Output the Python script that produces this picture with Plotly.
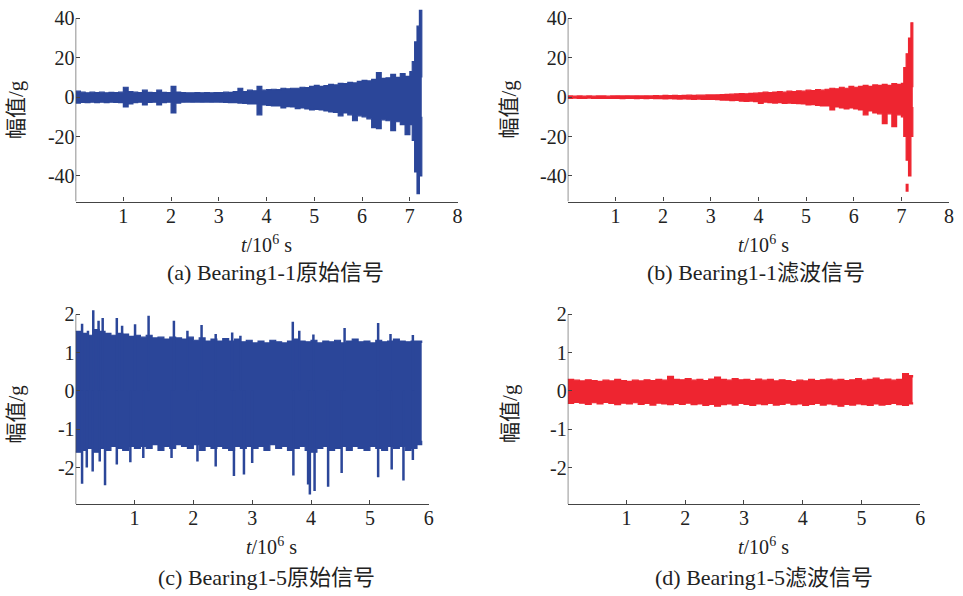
import plotly.graph_objects as go

W, H = 963, 596
BLUE = "#2B4699"
RED = "#EE2530"
AX = "#444444"
FONT = "'Liberation Serif', 'Noto Sans CJK SC', serif"

# ---------------- data ----------------
# sample times (10^6 s) of the envelope readings, one every 0.1
grid_a = sorted(set([round(i * 0.1, 2) for i in range(70)] + [7.0, 7.05, 7.1, 7.15, 7.2, 7.25]))
# (a) Bearing1-1 raw signal: upper / lower envelope
a_up = [3.0, 2.5, 2.2, 2.5, 2.3, 2.5, 2.2, 2.4, 2.3, 2.5,
        5.0, 2.8, 2.5, 2.3, 3.5, 2.4, 2.3, 3.5, 2.4, 2.3,
        5.5, 2.6, 2.3, 2.2, 2.2, 2.3, 2.2, 2.3, 2.2, 2.3,
        2.3, 2.5, 2.4, 2.8, 4.5, 2.8, 3.5, 3.2, 5.5, 3.5,
        3.8, 4.0, 3.8, 4.5, 4.2, 4.5, 4.5, 5.0, 4.8, 5.5,
        6.0, 5.5, 5.8, 6.5, 6.2, 7.0, 6.8, 7.5, 7.2, 8.0,
        8.5, 8.2, 9.0, 12.5, 9.5, 9.8, 11.5, 10.0, 12.0, 10.5,
        13.0, 18.0, 28.0, 36.0, 44.0, 10.0]
a_lo = [-3.0, -2.7, -2.8, -2.6, -2.8, -2.6, -2.8, -2.6, -2.7, -2.8,
        -5.0, -3.5, -2.8, -2.6, -4.0, -2.7, -2.6, -4.0, -2.8, -2.6,
        -8.0, -3.0, -2.6, -2.5, -2.6, -2.5, -2.6, -2.5, -2.6, -2.5,
        -2.6, -2.7, -2.8, -2.8, -3.0, -3.2, -3.5, -3.5, -9.0, -4.0,
        -4.2, -4.5, -4.5, -5.5, -4.8, -5.0, -5.8, -5.5, -6.0, -6.5,
        -6.2, -6.5, -7.0, -7.5, -7.8, -9.5, -8.0, -9.0, -12.0, -9.5,
        -10.0, -11.0, -15.5, -16.0, -11.5, -12.0, -17.0, -12.5, -14.0, -19.0,
        -14.0, -22.0, -38.0, -49.0, -40.0, -10.0]

grid_b = sorted(set([round(i * 0.1, 2) for i in range(70)] + [7.0, 7.05, 7.1, 7.15, 7.2, 7.24]))
# (b) Bearing1-1 filtered signal: upper / lower envelope
b_up = [0.6, 0.5, 0.6, 0.5, 0.6, 0.5, 0.6, 0.6, 0.5, 0.6,
        0.7, 0.6, 0.7, 0.6, 0.7, 0.6, 0.7, 0.6, 0.8, 0.7,
        0.9, 0.8, 0.9, 0.8, 0.9, 1.0, 0.9, 1.0, 1.0, 1.1,
        1.1, 1.2, 1.3, 1.4, 1.5, 1.6, 1.8, 1.7, 1.9, 2.0,
        2.2, 2.5, 2.3, 2.6, 2.8, 2.5, 3.0, 2.8, 3.2, 3.0,
        3.5, 3.3, 3.8, 3.5, 4.0, 4.5, 4.2, 5.0, 4.5, 5.5,
        5.0, 5.5, 6.0, 5.5, 6.2, 6.0, 6.5, 6.0, 6.8, 6.5,
        7.0, 15.0, 22.0, 30.0, 37.7, 5.0]
b_lo = [-0.6, -0.5, -0.6, -0.6, -0.5, -0.6, -0.6, -0.7, -0.6, -0.6,
        -0.7, -0.8, -0.7, -0.7, -0.8, -0.7, -0.8, -0.7, -0.8, -0.8,
        -0.9, -0.8, -0.9, -1.0, -0.9, -1.0, -1.1, -1.0, -1.1, -1.2,
        -1.2, -1.3, -1.5, -1.6, -1.8, -1.7, -2.0, -2.2, -2.0, -2.3,
        -3.2, -2.5, -2.8, -3.0, -2.8, -3.2, -3.0, -3.2, -3.3, -3.5,
        -4.0, -3.8, -4.2, -4.5, -4.5, -6.5, -5.0, -5.5, -6.0, -5.5,
        -6.0, -6.5, -9.0, -7.0, -8.0, -8.5, -13.5, -8.5, -15.0, -9.0,
        -10.0, -20.0, -32.0, -40.0, -20.0, -5.0]
b_blob_t = [7.12]          # detached burst below the band
b_blob_lo = [-48.0]
b_blob_hi = [-44.0]

grid_c = [round(i * 0.1, 2) for i in range(59)] + [5.88]
# (c) Bearing1-5 raw signal: upper / lower envelope
c_up = [1.55, 1.50, 1.45, 1.60, 1.55, 1.50, 1.45, 1.50, 1.48, 1.42,
        1.45, 1.40, 1.45, 1.38, 1.40, 1.35, 1.40, 1.38, 1.35, 1.40,
        1.32, 1.38, 1.30, 1.35, 1.30, 1.36, 1.30, 1.35, 1.28, 1.32,
        1.25, 1.30, 1.25, 1.32, 1.28, 1.25, 1.30, 1.35, 1.30, 1.28,
        1.32, 1.25, 1.30, 1.28, 1.32, 1.25, 1.30, 1.35, 1.28, 1.30,
        1.25, 1.32, 1.28, 1.30, 1.35, 1.30, 1.28, 1.30, 1.30, 1.25]
c_lo = [-1.60, -1.55, -1.50, -1.60, -1.50, -1.55, -1.45, -1.50, -1.55, -1.45,
        -1.50, -1.45, -1.50, -1.40, -1.55, -1.45, -1.50, -1.40, -1.45, -1.50,
        -1.40, -1.55, -1.45, -1.50, -1.45, -1.50, -1.55, -1.45, -1.50, -1.45,
        -1.50, -1.45, -1.55, -1.40, -1.50, -1.45, -1.55, -1.50, -1.45, -1.55,
        -1.60, -1.50, -1.45, -1.55, -1.50, -1.45, -1.55, -1.45, -1.50, -1.55,
        -1.45, -1.50, -1.55, -1.45, -1.50, -1.45, -1.55, -1.50, -1.40, -1.30]
c_spu_t = [0.11, 0.21, 0.30, 0.39, 0.46, 0.70, 0.79, 1.01, 1.24, 1.67, 1.90, 2.14, 2.38, 2.66,
           2.80, 3.69, 3.80, 4.04, 4.57, 5.14, 5.35, 5.73]
c_spu_v = [1.75, 1.57, 2.1, 1.83, 1.9, 1.9, 1.7, 1.74, 1.96, 1.83, 1.57, 1.72, 1.48, 1.52, 1.44,
           1.8, 1.57, 1.47, 1.64, 1.77, 1.48, 1.46]
c_spd_t = [0.11, 0.19, 0.29, 0.41, 0.50, 0.70, 0.93, 1.15, 1.63, 2.07, 2.38, 2.69, 2.86, 3.0,
           3.70, 3.95, 3.98, 4.06, 4.29, 4.52, 5.14, 5.37, 5.57, 5.73]
c_spd_v = [-2.42, -2.0, -2.1, -1.84, -2.46, -1.92, -1.86, -1.75, -1.75, -1.84, -1.97, -2.22,
           -2.18, -1.88, -2.21, -2.44, -2.7, -2.61, -2.5, -2.14, -2.25, -2.05, -2.34, -1.8]

grid_d = [round(i * 0.1, 2) for i in range(59)] + [5.87]
# (d) Bearing1-5 filtered signal: upper / lower envelope
d_up = [0.30, 0.28, 0.26, 0.29, 0.27, 0.25, 0.28, 0.26, 0.30, 0.27,
        0.25, 0.28, 0.26, 0.29, 0.27, 0.30, 0.28, 0.38, 0.30, 0.29,
        0.32, 0.28, 0.30, 0.27, 0.31, 0.36, 0.30, 0.28, 0.32, 0.29,
        0.30, 0.27, 0.31, 0.28, 0.30, 0.26, 0.29, 0.27, 0.24, 0.28,
        0.26, 0.30, 0.27, 0.29, 0.31, 0.28, 0.30, 0.27, 0.29, 0.32,
        0.28, 0.30, 0.33, 0.29, 0.31, 0.28, 0.30, 0.45, 0.40, 0.35]
d_lo = [-0.33, -0.30, -0.32, -0.35, -0.31, -0.34, -0.30, -0.33, -0.36, -0.32,
        -0.34, -0.31, -0.35, -0.33, -0.37, -0.32, -0.34, -0.36, -0.33, -0.35,
        -0.32, -0.36, -0.34, -0.38, -0.35, -0.40, -0.36, -0.34, -0.37, -0.33,
        -0.35, -0.38, -0.34, -0.36, -0.33, -0.37, -0.35, -0.32, -0.36, -0.34,
        -0.38, -0.35, -0.33, -0.37, -0.34, -0.36, -0.40, -0.35, -0.37, -0.34,
        -0.36, -0.38, -0.34, -0.37, -0.35, -0.33, -0.36, -0.38, -0.34, -0.30]

captions = ["(a) Bearing1-1原始信号", "(b) Bearing1-1滤波信号",
            "(c) Bearing1-5原始信号", "(d) Bearing1-5滤波信号"]
ylabel = "幅值/g"
xlabel = "<i>t</i>/10<sup>6</sup> s"
top_ticks_x = [1, 2, 3, 4, 5, 6, 7, 8]
top_ticks_y = [-40, -20, 0, 20, 40]
bot_ticks_x = [1, 2, 3, 4, 5, 6]
bot_ticks_y = [-2, -1, 0, 1, 2]

# ---------------- layout geometry (pixels) ----------------
panels = [
    dict(x0=76, x1=460, xr=[0, 8], yr=[-53, 46], ytop=40, ypix=(1.5, 198.2),
         tx=top_ticks_x, ty=top_ticks_y),
    dict(x0=570.7, x1=954, xr=[0, 8], yr=[-53, 46], ytop=40, ypix=(1.5, 198.2),
         tx=top_ticks_x, ty=top_ticks_y),
    dict(x0=76, x1=431, xr=[0, 6], yr=[-2.95, 2.15], ytop=2, ypix=(306, 503.2),
         tx=bot_ticks_x, ty=bot_ticks_y),
    dict(x0=570.7, x1=925, xr=[0, 6], yr=[-2.95, 2.15], ytop=2, ypix=(306, 503.2),
         tx=bot_ticks_x, ty=bot_ticks_y),
]

fig = go.Figure()


def band(t, up, lo, color, k):
    fig.add_trace(go.Scatter(x=t, y=lo, mode="lines",
                             line=dict(color=color, width=1.2, shape="hv"),
                             xaxis=f"x{k}", yaxis=f"y{k}", showlegend=False, hoverinfo="skip"))
    fig.add_trace(go.Scatter(x=t, y=up, mode="lines", fill="tonexty", fillcolor=color,
                             line=dict(color=color, width=1.2, shape="hv"),
                             xaxis=f"x{k}", yaxis=f"y{k}", showlegend=False, hoverinfo="skip"))


def spikes(t, lo, hi, color, k, w=2):
    xs, ys = [], []
    for a, b, c in zip(t, lo, hi):
        xs += [a, a, None]
        ys += [b, c, None]
    fig.add_trace(go.Scatter(x=xs, y=ys, mode="lines", line=dict(color=color, width=w),
                             xaxis=f"x{k}", yaxis=f"y{k}", showlegend=False, hoverinfo="skip"))


band(grid_a, a_up, a_lo, BLUE, 1)
band(grid_b, b_up, b_lo, RED, 2)
spikes(b_blob_t, b_blob_lo, b_blob_hi, RED, 2, 3)
band(grid_c, c_up, c_lo, BLUE, 3)
spikes(c_spu_t, [0] * len(c_spu_t), c_spu_v, BLUE, 3, 2.5)
spikes(c_spd_t, [0] * len(c_spd_t), c_spd_v, BLUE, 3, 2.5)
band(grid_d, d_up, d_lo, RED, 4)

lay = dict(width=W, height=H, margin=dict(l=0, r=0, t=0, b=0),
           paper_bgcolor="white", plot_bgcolor="white",
           font=dict(family=FONT, size=20, color="#222222"))

for i, p in enumerate(panels, start=1):
    xd = [p["x0"] / W, p["x1"] / W]
    yd = [1 - p["ypix"][1] / H, 1 - p["ypix"][0] / H]
    lay[f"xaxis{i}"] = dict(domain=xd, range=p["xr"], anchor=f"y{i}", showgrid=False,
                            zeroline=False, showline=True, linecolor=AX, linewidth=1.2,
                            ticks="inside", ticklen=4, tickcolor=AX, tickwidth=1,
                            ticklabelstandoff=-4,
                            tickvals=p["tx"], ticktext=[str(v) for v in p["tx"]],
                            tickfont=dict(size=20, family=FONT))
    lay[f"yaxis{i}"] = dict(domain=yd, range=p["yr"], anchor=f"x{i}", showgrid=False,
                            zeroline=False, showline=False,
                            ticks="inside", ticklen=4, tickcolor=AX, tickwidth=1,
                            tickvals=p["ty"], ticktext=[str(v) for v in p["ty"]],
                            tickfont=dict(size=20, family=FONT))
fig.update_layout(**lay)

# y-axis lines from bottom of range up to the top tick
for i, p in enumerate(panels, start=1):
    fig.add_shape(type="line", xref=f"x{i}", yref=f"y{i}", x0=0, x1=0,
                  y0=p["yr"][0], y1=p["ytop"], line=dict(color=AX, width=1.2), layer="above")

# axis titles and captions
title_pos = [(268, 241), (767, 241), (273, 546), (767, 546)]
cap_pos = [(277, 270), (760, 270), (268, 577), (768, 577)]
ylab_pos = [(16, 105), (512, 105), (16, 412), (512, 412)]
for i in range(4):
    fig.add_annotation(text=xlabel, x=title_pos[i][0] / W, y=1 - title_pos[i][1] / H,
                       xref="paper", yref="paper", showarrow=False,
                       font=dict(size=20, family=FONT), xanchor="center", yanchor="middle")
    fig.add_annotation(text=captions[i], x=cap_pos[i][0] / W, y=1 - cap_pos[i][1] / H,
                       xref="paper", yref="paper", showarrow=False,
                       font=dict(size=22, family=FONT), xanchor="center", yanchor="middle")
    fig.add_annotation(text=ylabel, x=ylab_pos[i][0] / W, y=1 - ylab_pos[i][1] / H,
                       xref="paper", yref="paper", showarrow=False, textangle=-90,
                       font=dict(size=21, family=FONT), xanchor="center", yanchor="middle")

fig.write_html("out.html", config={"displayModeBar": False},
               post_script="document.body.style.margin='0';")
